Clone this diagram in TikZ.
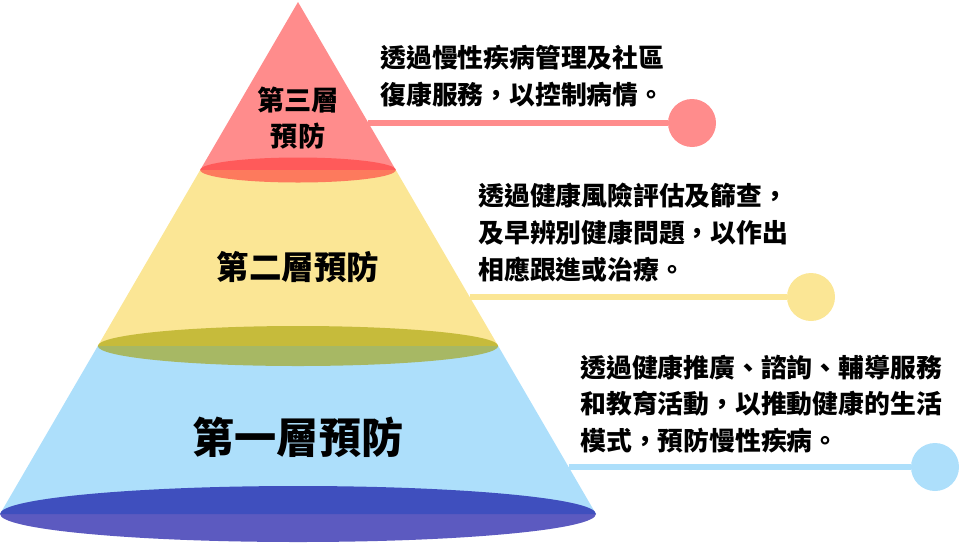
\documentclass[tikz,border=0pt]{standalone}
\usepackage{fontspec}
\setmainfont{Noto Sans CJK TC}
\definecolor{pinkfill}{RGB}{255,140,140}
\definecolor{yellowfill}{RGB}{251,230,149}
\definecolor{bluefill}{RGB}{173,223,251}
\definecolor{redrim}{RGB}{255,62,62}
\definecolor{olivrim}{RGB}{164,159,0}
\definecolor{navyrim}{RGB}{5,2,158}
\begin{document}
\begin{tikzpicture}[x=0.02cm,y=0.02cm,
  tier/.style={font=\bfseries\fontsize{#1}{20.4}\selectfont, align=center, inner sep=0pt, text=black},
  note/.style={font=\bfseries\fontsize{14.7}{21}\selectfont, align=left, anchor=west, inner sep=0pt, text=black},
  link/.style={draw=#1, line width=3.4pt},
  dot/.style={circle, fill=#1, minimum size=0.96cm, inner sep=0pt}]
\useasboundingbox (0,0) rectangle (960,-542);
\fill[pinkfill] (298,-2) -- (395.8,-170) -- (200.2,-170) -- cycle;
\fill[yellowfill] (200.2,-170) -- (395.8,-170) -- (498.2,-346) -- (97.8,-346) -- cycle;
\fill[bluefill] (97.8,-346) -- (498.2,-346) -- (596,-514) -- (0,-514) -- cycle;
\fill[redrim, opacity=0.64] (298,-170) ellipse [x radius=97.8, y radius=12.5];
\fill[olivrim, opacity=0.6] (298,-346) ellipse [x radius=200.2, y radius=20];
\fill[navyrim, opacity=0.65] (298,-514) ellipse [x radius=298, y radius=28];
\node[tier=15.5] (tier3) at (298,-118) {第三層\\預防};
\node[tier=18.5] (tier2) at (298,-267) {第二層預防};
\node[tier=24] (tier1) at (298,-437) {第一層預防};
\coordinate (edge3) at (368.4,-123);
\coordinate (edge2) at (469.7,-297);
\coordinate (edge1) at (568.6,-467);
\node[dot=pinkfill] (dot3) at (692,-123) {};
\node[dot=yellowfill] (dot2) at (811,-297) {};
\node[dot=bluefill] (dot1) at (935,-467) {};
\draw[link=pinkfill] (edge3) -- (dot3);
\draw[link=yellowfill] (edge2) -- (dot2);
\draw[link=bluefill] (edge1) -- (dot1);
\node[note] (note3) at (380,-76.5) {透過慢性疾病管理及社區\\復康服務，以控制病情。};
\node[note] (note2) at (478,-233) {透過健康風險評估及篩查，\\及早辨別健康問題，以作出\\相應跟進或治療。};
\node[note] (note1) at (580,-404) {透過健康推廣、諮詢、輔導服務\\和教育活動，以推動健康的生活\\模式，預防慢性疾病。};
\end{tikzpicture}
\end{document}
